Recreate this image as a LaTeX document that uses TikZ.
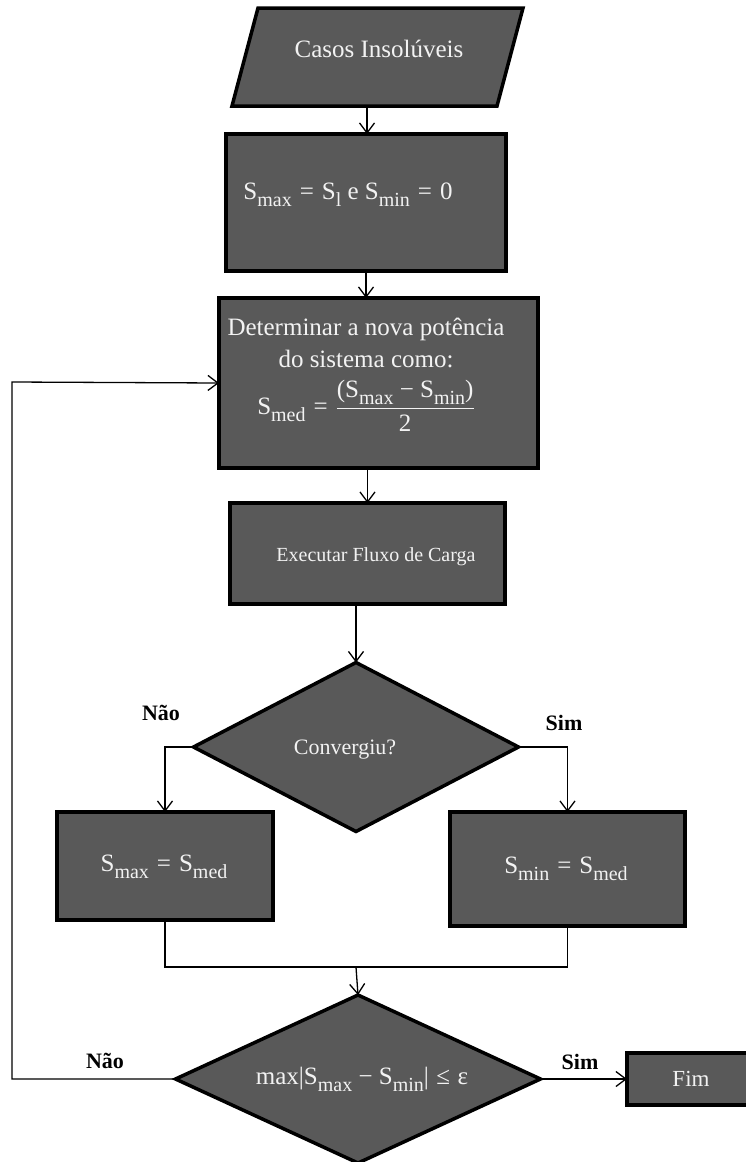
\documentclass[tikz,border=0pt]{standalone}
\usepackage{fontspec}
\usepackage{graphicx}
\setmainfont{Liberation Serif}
\usetikzlibrary{shapes.geometric,arrows.meta}

\definecolor{boxgray}{HTML}{595959}
\definecolor{textgray}{HTML}{F2F2F2}

% lowered, reduced subscript written in text mode
\newcommand{\lowsub}[1]{\raisebox{-0.3em}{\scalebox{0.8}{#1}}}
% relation and operator with roomy spacing
\newcommand{\releq}{\hspace{0.32em}=\hspace{0.32em}}
\newcommand{\opminus}{\hspace{0.25em}−\hspace{0.25em}}

\begin{document}
\begin{tikzpicture}[x=1pt,y=-1pt,
  blk/.style={draw=black, line width=3.5pt, fill=boxgray, inner sep=0pt, outer sep=0pt},
  rbox/.style={blk, rectangle},
  dec/.style={blk, diamond},
  lbl/.style={text=textgray, font=\fontsize{25}{29}\selectfont, inner sep=0pt, anchor=base},
  yn/.style={font=\bfseries\fontsize{22}{25}\selectfont, inner sep=0pt, anchor=base},
  ln/.style={line width=1.3pt},
  arr/.style={ln, -{Straight Barb[length=10pt,width=15pt]}}]

\useasboundingbox (0,0) rectangle (745,1162);

% input parallelogram
\coordinate (p1) at (258,8);
\coordinate (p2) at (523,8);
\coordinate (p3) at (497,106);
\coordinate (p4) at (232,106);
\path[blk, line join=miter] (p1) -- (p2) -- (p3) -- (p4) -- cycle;

% blocks
\node[rbox, minimum width=280pt, minimum height=137pt] (b1) at (366,202.5) {};
\node[rbox, minimum width=319pt, minimum height=170pt] (b2) at (378.5,383) {};
\node[rbox, minimum width=275pt, minimum height=101pt] (b3) at (367.5,553.5) {};
\node[dec, minimum width=325pt, minimum height=169pt] (d1) at (356,747) {};
\node[rbox, minimum width=216pt, minimum height=108pt] (bl) at (165,866) {};
\node[rbox, minimum width=235pt, minimum height=114pt] (br) at (567.5,869) {};
\node[dec, minimum width=365pt, minimum height=168pt] (d2) at (358,1079) {};
\node[rbox, minimum width=123pt, minimum height=52pt] (fim) at (688.5,1079) {};

% texts
\node[lbl] (t0) at (379,57) {Casos Insolúveis};
\node[lbl] (t1) at (348,199) {S\lowsub{max}\releq S\lowsub{l} e S\lowsub{min}\releq 0};
\node[lbl] (t2a) at (366,335) {Determinar a nova potência};
\node[lbl] (t2b) at (366,367) {do sistema como:};
\node[lbl] (t2c) at (366,414)
  {S\lowsub{med}\releq$\displaystyle\frac{\hbox{(S\lowsub{max}\opminus S\lowsub{min})}}{\hbox{2}}$};
\node[lbl, font=\fontsize{20}{24}\selectfont] (t3) at (376,561) {Executar Fluxo de Carga};
\node[lbl, font=\fontsize{22}{26}\selectfont] (t4) at (345,754) {Convergiu?};
\node[lbl] (t5) at (164,871) {S\lowsub{max}\releq S\lowsub{med}};
\node[lbl] (t6) at (566,873) {S\lowsub{min}\releq S\lowsub{med}};
\node[lbl] (t7) at (362,1084) {max|S\lowsub{max}\opminus S\lowsub{min}|\hspace{0.3em}≤\hspace{0.3em}ε};
\node[lbl, font=\fontsize{23}{26}\selectfont] (t8) at (691,1086) {Fim};

% branch labels
\node[yn] (nao1) at (161,720) {Não};
\node[yn] (sim1) at (564,730) {Sim};
\node[yn] (nao2) at (105,1068) {Não};
\node[yn] (sim2) at (580,1069) {Sim};

% connectors
\coordinate (sb) at (367,106);
\coordinate (join) at (356,967);
\coordinate (back) at (12,382);

\draw[arr] (sb) -- (sb |- b1.north);
\draw[arr] (b1.south) -- (b1.south |- b2.north);
\draw[arr] (b3.north |- b2.south) -- (b3.north);
\draw[arr] (d1.north |- b3.south) -- (d1.north);
\draw[arr] (d1.west) -| (bl.north);
\draw[arr] (d1.east) -| (br.north);
\draw[ln] (bl.south) |- (join) -| (br.south);
\draw[arr] (join) -- (d2.north);
\draw[arr] (d2.west) -| (back) -- (b2.west);
\draw[arr] (d2.east) -- (fim.west);

\end{tikzpicture}
\end{document}
